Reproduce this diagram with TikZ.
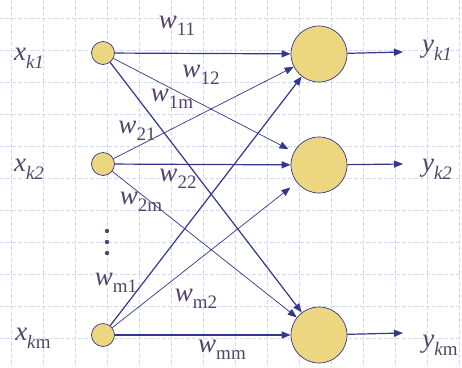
\documentclass[tikz,border=0pt]{standalone}
\usepackage{fontspec}
\setmainfont{Liberation Serif}
\usetikzlibrary{arrows.meta, positioning}

\definecolor{wireblue}{RGB}{52,54,140}
\definecolor{cellfill}{RGB}{236,214,128}
\definecolor{labtext}{RGB}{82,68,104}
\definecolor{gridblue}{RGB}{208,218,248}

% weight label: italic w with lowered upright index
\newcommand{\wlab}[1]{\textit{w}\raisebox{-7pt}{\fontsize{19}{19}\selectfont #1}}
% signal label: italic letter with lowered index
\newcommand{\slab}[2]{\textit{#1}\raisebox{-8pt}{\fontsize{19}{19}\selectfont #2}}

\begin{document}
\begin{tikzpicture}[
    x=1pt, y=-1pt,
    gridline/.style={gridblue, line width=0.7pt, dash pattern=on 4pt off 2pt},
    inp/.style={circle, draw=wireblue, fill=cellfill, line width=0.7pt, minimum size=23pt, inner sep=0pt},
    outp/.style={circle, draw=wireblue, fill=cellfill, line width=0.7pt, minimum size=56pt, inner sep=0pt},
    lab/.style={text=labtext, font=\fontsize{27}{29}\selectfont, inner sep=0pt},
    wire/.style={wireblue, line width=1.2pt},
    thinwire/.style={wireblue, line width=0.7pt},
    >={Triangle[length=9pt, width=7pt]}
]
    \useasboundingbox (0,0) rectangle (462,367);
    \foreach \gx in {11,43,...,459} \draw[gridline] (\gx,0) -- (\gx,367);
    \foreach \gy in {18,50,...,338} \draw[gridline] (0,\gy) -- (462,\gy);

    % inputs and outputs
    \node[inp] (x1) at (103,53) {};
    \node[inp] (x2) at (103,164) {};
    \node[inp] (xm) at (103,335) {};
    \node[outp] (y1) at (319,54) {};
    \node[outp] (y2) at (319,165) {};
    \node[outp] (ym) at (319,335) {};
    \coordinate (o1) at (403,52);
    \coordinate (o2) at (403,164);
    \coordinate (om) at (403,333);

    \node[lab] (lx1) at (29,58) {\slab{x}{\textit{k1}}};
    \node[lab] (lx2) at (29,169) {\slab{x}{\textit{k2}}};
    \node[lab] (lxm) at (33,338) {\slab{x}{\textit{k}m}};
    \node[lab] (ly1) at (437,50) {\slab{y}{\textit{k1}}};
    \node[lab] (ly2) at (437,169) {\slab{y}{\textit{k2}}};
    \node[lab] (lym) at (440,345) {\slab{y}{\textit{k}m}};

    % dots between rows
    \foreach \dy in {231,242,253} \fill[labtext] (107,\dy) circle (2.2pt);

    % connections
    \draw[->, wire] (x1) -- (y1);
    \draw[->, thinwire, shorten >=6pt] (x1) -- (y2);
    \draw[->, wire] (x1) -- (ym);
    \draw[->, thinwire] (x2) -- (y1);
    \draw[->, wire] (x2) -- (y2);
    \draw[->, thinwire] (x2) -- (ym);
    \draw[->, wire] (xm) -- (y1);
    \draw[->, thinwire, shorten >=8pt] (xm) -- (y2);
    \draw[->, wire] (xm) -- (ym);
    \draw[->, wire] (y1) -- (o1);
    \draw[->, wire] (y2) -- (o2);
    \draw[->, wire] (ym) -- (om);

    % weights
    \node[lab] (w11) at (177,26) {\wlab{11}};
    \node[lab] (w12) at (201,75) {\wlab{12}};
    \node[lab] (w1m) at (172,99) {\wlab{1m}};
    \node[lab] (w21) at (137,131) {\wlab{21}};
    \node[lab] (w22) at (178,179) {\wlab{22}};
    \node[lab] (w2m) at (141,202) {\wlab{2m}};
    \node[lab] (wm1) at (116,283) {\wlab{m1}};
    \node[lab] (wm2) at (196,299) {\wlab{m2}};
    \node[lab] (wmm) at (222,350) {\wlab{mm}};
\end{tikzpicture}
\end{document}
